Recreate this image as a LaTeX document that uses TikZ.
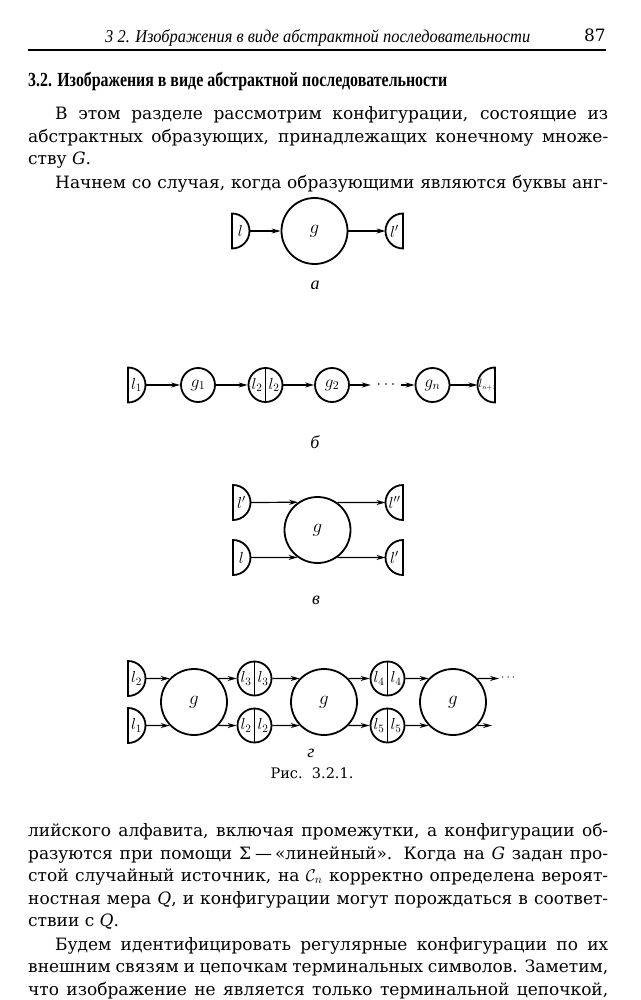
\documentclass[tikz,border=0pt]{standalone}
\usepackage{fix-cm}
\usepackage{graphicx}
\usepackage{fontspec}
\setmainfont{DejaVu Serif}
\newfontfamily\headfont{Liberation Serif}
\usetikzlibrary{arrows.meta}
\newcommand\bodyfont{\fontsize{17}{22.7}\selectfont}
\newcommand\tmL[4]{%
  \coordinate (#1) at (#2+17.5,#3);
  \draw[term] (#2,#3-17.5) arc[start angle=-90,end angle=90,radius=17.5] -- cycle;
  \node[lab] (#1-t) at (#2+8.5,#3) {#4};}
\newcommand\tmR[5][8.5]{%
  \coordinate (#2) at (#3-17.5,#4);
  \draw[term] (#3,#4-17.5) arc[start angle=-90,end angle=-270,radius=17.5] -- cycle;
  \node[lab] (#2-t) at (#3-#1,#4) {#5};}
\newcommand\splitgen[4]{% name, x, y, index
  \node[sgen] (#1) at (#2,#3) {};
  \draw[term] (#1.north) -- (#1.south);
  \node[lab] (#1-a) at (#2-8.5,#3) {$l_{#4}$};
  \node[lab] (#1-b) at (#2+8.5,#3) {$l_{#4}$};}
\tikzset{
  gen/.style={circle, draw, line width=1.8pt, inner sep=0pt, minimum size=66pt, font=\fontsize{19}{19}\selectfont},
  sgen/.style={circle, draw, line width=1.8pt, inner sep=0pt, minimum size=34pt, font=\fontsize{17}{17}\selectfont},
  term/.style={line width=1.8pt},
  bond/.style={line width=1.2pt, -{Stealth[length=9pt,width=5pt]}},
  lab/.style={inner sep=0pt, font=\fontsize{16}{16}\selectfont},
  capt/.style={inner sep=0pt, font=\fontsize{18}{18}\headfont\itshape},
  txt/.style={anchor=base west, inner sep=0pt, font=\bodyfont},
}
\begin{document}
\begin{tikzpicture}[x=1pt,y=-1pt]
\fill[white] (0,0) rectangle (640,1000);
\useasboundingbox (0,0) rectangle (640,1000);
% header
\node[anchor=base west, inner sep=0pt, font=\fontsize{18}{18}\headfont\itshape] (hdr) at (105,43)
  {\resizebox{425pt}{\height}{3 2. Изображения в виде абстрактной последовательности}};
\node[anchor=base east, inner sep=0pt, font=\fontsize{17}{17}\selectfont] (pg) at (606,42) {87};
\coordinate (r1) at (28,50); \coordinate (r2) at (606,50);
\draw[line width=1.3pt] (r1) -- (r2);
\node[anchor=base west, inner sep=0pt, font=\fontsize{20}{20}\headfont\bfseries] (head) at (28,87)
  {\resizebox{419pt}{\height}{3.2. Изображения в виде абстрактной последовательности}};
% top text
\node[txt] (t1) at (55,120) {\makebox[553pt][s]{В этом разделе рассмотрим конфигурации, состоящие из}};
\node[txt] (t2) at (28,143) {\makebox[580pt][s]{абстрактных образующих, принадлежащих конечному множе-}};
\node[txt] (t3) at (28,165) {ству \textit{G}.};
\node[txt] (t4) at (55,189) {\makebox[553pt][s]{Начнем со случая, когда образующими являются буквы анг-}};
% diagram a
\tmL{a-l}{232}{231}{$l$}
\node[gen] (a-g) at (314.5,231) {$g$};
\tmR{a-r}{403}{231}{$l'$}
\draw[bond] (a-l) -- (a-g);
\draw[bond] (a-g) -- (a-r);
\node[capt] (a-cap) at (315,285) {а};
% diagram b
\tmL{b-l1}{128}{385}{$l_1$}
\node[sgen] (b-g1) at (198,385) {$g_1$};
\splitgen{b-s2}{265.5}{385}{2}
\node[sgen] (b-g2) at (332,385) {$g_2$};
\node[inner sep=0pt, minimum width=30pt, font=\fontsize{16}{16}\selectfont] (b-dots) at (386,385) {$\cdots$};
\node[sgen] (b-gn) at (432.5,385) {$g_n$};
\tmR[7.5]{b-ln}{495}{385}{\fontsize{12}{12}\selectfont$l_{\scriptscriptstyle n+1}$}
\draw[bond] (b-l1) -- (b-g1);
\draw[bond] (b-g1) -- (b-s2);
\draw[bond] (b-s2) -- (b-g2);
\draw[bond] (b-g2) -- (b-dots.west);
\draw[bond] (b-dots.east) -- (b-gn);
\draw[bond] (b-gn) -- (b-ln);
\node[capt] (b-cap) at (315,442) {б};
% diagram c
\tmL{c-lu}{233}{502.5}{$l'$}
\tmL{c-ld}{233}{557.5}{$l$}
\node[gen] (c-g) at (317.5,530) {$g$};
\tmR{c-ru}{403}{502.5}{$l''$}
\tmR{c-rd}{403}{557.5}{$l'$}
\draw[bond] (c-lu) -- (c-g.125.6);
\draw[bond] (c-ld) -- (c-g.234.4);
\draw[bond] (c-g.54.4) -- (c-ru);
\draw[bond] (c-g.-54.4) -- (c-rd);
\node[capt] (c-cap) at (316,600) {в};
% diagram d
\tmL{d-l2}{128}{678.5}{$l_2$}
\tmL{d-l1}{128}{725.5}{$l_1$}
\node[gen] (d-g1) at (194,702) {$g$};
\node[gen] (d-g2) at (324,702) {$g$};
\node[gen] (d-g3) at (453,702) {$g$};
\splitgen{d-s3}{254.5}{678.5}{3}
\splitgen{d-s2}{254.5}{725.5}{2}
\splitgen{d-s4}{387.5}{678.5}{4}
\splitgen{d-s5}{387.5}{725.5}{5}
\coordinate (d-o1) at (499,678.5);
\coordinate (d-o2) at (492,725.5);
\node[inner sep=0pt, font=\fontsize{12}{12}\selectfont, anchor=west] (d-dots) at (501,677.5) {$\cdots$};
\draw[bond] (d-l2) -- (d-g1.136);
\draw[bond] (d-l1) -- (d-g1.224);
\draw[bond] (d-g1.44) -- (d-s3.west);
\draw[bond] (d-g1.-44) -- (d-s2.west);
\draw[bond] (d-s3.east) -- (d-g2.136);
\draw[bond] (d-s2.east) -- (d-g2.224);
\draw[bond] (d-g2.44) -- (d-s4.west);
\draw[bond] (d-g2.-44) -- (d-s5.west);
\draw[bond] (d-s4.east) -- (d-g3.136);
\draw[bond] (d-s5.east) -- (d-g3.224);
\draw[bond] (d-g3.44) -- (d-o1);
\draw[bond] (d-g3.-44) -- (d-o2);
\node[capt] (d-cap) at (311,753) {г};
\node[inner sep=0pt, font=\fontsize{14.5}{14.5}\selectfont] (fig) at (312,773) {Рис.\ \ 3.2.1.};
% bottom text
\node[txt] (u1) at (28,836) {\makebox[580pt][s]{лийского алфавита, включая промежутки, а конфигурации об-}};
\node[txt] (u2) at (28,859) {\makebox[580pt][s]{разуются при помощи Σ\kern4pt—\kern3pt«линейный». Когда на \textit{G} задан про-}};
\node[txt] (u3) at (28,881) {\makebox[580pt][s]{стой случайный источник, на $\mathcal{C}_n$ корректно определена вероят-}};
\node[txt] (u4) at (28,904) {\makebox[580pt][s]{ностная мера \textit{Q}, и конфигурации могут порождаться в соответ-}};
\node[txt] (u5) at (28,926) {ствии с \textit{Q}.};
\node[txt] (u6) at (55,950) {\makebox[553pt][s]{Будем идентифицировать регулярные конфигурации по их}};
\node[txt] (u7) at (28,972) {\makebox[580pt][s]{внешним связям и цепочкам терминальных символов. Заметим,}};
\node[txt] (u8) at (28,995) {\makebox[580pt][s]{что изображение не является только терминальной цепочкой,}};
\end{tikzpicture}
\end{document}
